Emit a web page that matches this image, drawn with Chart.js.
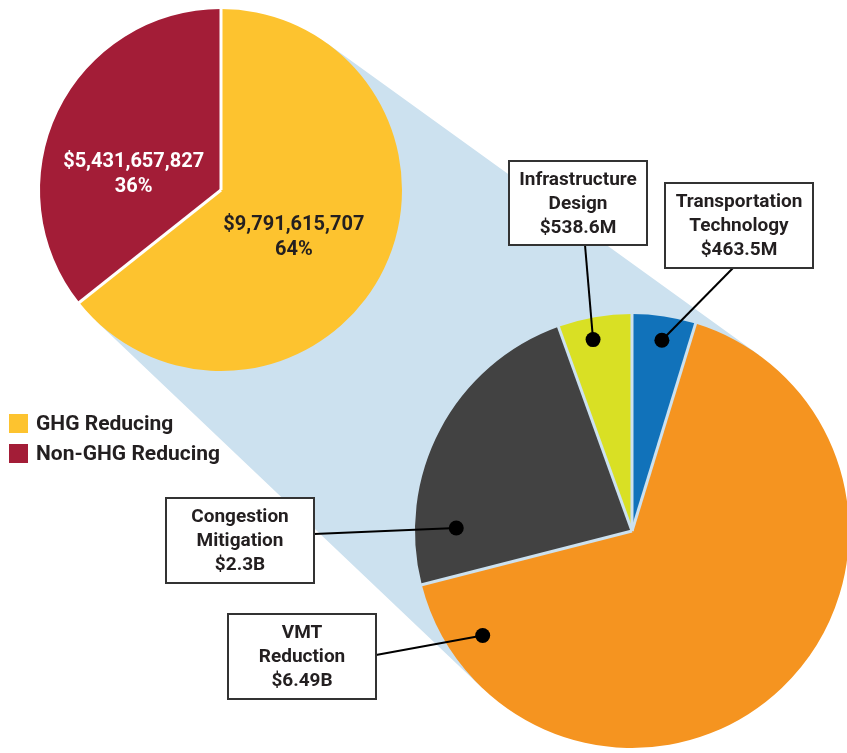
<!DOCTYPE html>
<html>
<head>
<meta charset="utf-8">
<script src="https://cdn.jsdelivr.net/npm/chart.js@4.4.1/dist/chart.umd.min.js"></script>
<style>
  html, body { margin: 0; padding: 0; background: #fff; overflow: hidden; }
  #wrap { position: relative; width: 847px; height: 753px; overflow: hidden; }
  canvas { position: absolute; left: 0; top: 0; }
  #bigChart { z-index: 1; }
  #smallChart { z-index: 2; }
  .legendRow { position: absolute; left: 9px; z-index: 3; display: flex; align-items: center;
    font: bold 21px Roboto, sans-serif; color: #231f20; }
  .legendRow .sq { width: 19px; height: 19px; margin-right: 8px; }
</style>
</head>
<body>
<div id="wrap">
  <canvas id="bigChart" width="860" height="760"></canvas>
  <canvas id="smallChart" width="860" height="760"></canvas>
</div>
<script>
// top level split
const splitLabels = ['GHG Reducing', 'Non-GHG Reducing'];
const splitValues = [9791615707, 5431657827];
const splitColors = ['#fdc32f', '#a31d37'];
const splitTextColors = ['#231f20', '#ffffff'];

// breakdown of the GHG reducing part (millions)
const ghgLabels = ['Transportation Technology', 'VMT Reduction', 'Congestion Mitigation', 'Infrastructure Design'];
const ghgValues = [463.5, 6490, 2300, 538.6];
const ghgValueText = ['$463.5M', '$6.49B', '$2.3B', '$538.6M'];
const ghgColors = ['#1172ba', '#f59420', '#424242', '#d9e024'];

// label placement (angle from top in degrees, fraction of radius)
const splitLabelPos = [[123, 0.48], [280, 0.49]];
const callouts = [
  { box: [665, 183, 148, 85], from: [733, 268], angle: 8.9, r: 0.89 },
  { box: [228, 614, 148, 85], from: [376, 655], angle: 235, r: 0.84 },
  { box: [166, 498, 148, 85], from: [314, 534], angle: 271, r: 0.81 },
  { box: [509, 161, 138, 84], from: [585, 245], angle: 348.5, r: 0.9 }
];

const FONT = 'Roboto, sans-serif';
const INK = '#231f20';
const BAND = '#cce1ef';

// legend
splitLabels.forEach((lab, i) => {
  const row = document.createElement('div');
  row.className = 'legendRow';
  row.style.top = (411 + i * 30) + 'px';
  const sq = document.createElement('span');
  sq.className = 'sq';
  sq.style.background = splitColors[i];
  row.appendChild(sq);
  row.appendChild(document.createTextNode(lab));
  document.getElementById('wrap').appendChild(row);
});

const polar = (arc, deg, frac) => {
  const a = deg * Math.PI / 180;
  return [arc.x + Math.sin(a) * arc.outerRadius * frac, arc.y - Math.cos(a) * arc.outerRadius * frac];
};

// thin separator lines between slices
const separators = (id, color) => ({
  id: id,
  afterDatasetsDraw(chart) {
    const ctx = chart.ctx;
    ctx.save();
    ctx.strokeStyle = color;
    ctx.lineWidth = 3;
    ctx.lineCap = 'butt';
    chart.getDatasetMeta(0).data.forEach((arc) => {
      ctx.beginPath();
      ctx.moveTo(arc.x, arc.y);
      ctx.lineTo(arc.x + Math.cos(arc.startAngle) * (arc.outerRadius + 2), arc.y + Math.sin(arc.startAngle) * (arc.outerRadius + 2));
      ctx.stroke();
    });
    ctx.restore();
  }
});

// labels inside the small pie
const splitLabelPlugin = {
  id: 'splitLabels',
  afterDatasetsDraw(chart) {
    const ctx = chart.ctx;
    const arcs = chart.getDatasetMeta(0).data;
    const total = splitValues.reduce((a, b) => a + b, 0);
    ctx.save();
    ctx.font = 'bold 20px ' + FONT;
    ctx.textAlign = 'center';
    ctx.textBaseline = 'middle';
    arcs.forEach((arc, i) => {
      const [x, y] = polar(arc, splitLabelPos[i][0], splitLabelPos[i][1]);
      ctx.fillStyle = splitTextColors[i];
      ctx.fillText('$' + splitValues[i].toLocaleString('en-US'), x, y - 12.5);
      ctx.fillText(Math.round(splitValues[i] / total * 100) + '%', x, y + 12.5);
    });
    ctx.restore();
  }
};

const smallChart = new Chart(document.getElementById('smallChart'), {
  type: 'pie',
  data: {
    labels: splitLabels,
    datasets: [{
      data: splitValues,
      backgroundColor: splitColors,
      borderWidth: 0
    }]
  },
  options: {
    responsive: false,
    animation: false,
    events: [],
    layout: { padding: { left: 40, top: 9, right: 458, bottom: 389 } },
    plugins: { legend: { display: false }, tooltip: { enabled: false } }
  },
  plugins: [separators('smallSep', '#ffffff'), splitLabelPlugin]
});

// light blue band joining the GHG slice to the breakdown pie
const connectorPlugin = {
  id: 'connector',
  beforeDatasetsDraw(chart) {
    const a = smallChart.getDatasetMeta(0).data[0];
    const b = chart.getDatasetMeta(0).data[0];
    const dx = b.x - a.x, dy = b.y - a.y;
    const dist = Math.hypot(dx, dy);
    const phi = Math.atan2(dy, dx);
    const alpha = Math.acos((b.outerRadius - a.outerRadius) / dist);
    const tang = (ang) => {
      const nx = Math.cos(ang), ny = Math.sin(ang);
      return [[a.x - a.outerRadius * nx, a.y - a.outerRadius * ny], [b.x - b.outerRadius * nx, b.y - b.outerRadius * ny]];
    };
    const up = tang(phi + alpha);
    const low = tang(phi - alpha);
    const ctx = chart.ctx;
    ctx.save();
    ctx.fillStyle = BAND;
    ctx.beginPath();
    ctx.moveTo(a.x, a.y);
    ctx.lineTo(up[0][0], up[0][1]);
    ctx.lineTo(up[1][0], up[1][1]);
    ctx.lineTo(b.x, b.y);
    ctx.lineTo(low[1][0], low[1][1]);
    ctx.lineTo(low[0][0], low[0][1]);
    ctx.closePath();
    ctx.fill();
    ctx.restore();
  }
};

// boxed callouts for the breakdown pie
const calloutPlugin = {
  id: 'callouts',
  afterDatasetsDraw(chart) {
    const ctx = chart.ctx;
    const arcs = chart.getDatasetMeta(0).data;
    ctx.save();
    arcs.forEach((arc, i) => {
      const c = callouts[i];
      const [px, py] = polar(arc, c.angle, c.r);
      ctx.strokeStyle = '#000';
      ctx.lineWidth = 2;
      ctx.beginPath();
      ctx.moveTo(c.from[0], c.from[1]);
      ctx.lineTo(px, py);
      ctx.stroke();
      ctx.fillStyle = '#000';
      ctx.beginPath();
      ctx.arc(px, py, 7.5, 0, Math.PI * 2);
      ctx.fill();
      const [bx, by, bw, bh] = c.box;
      ctx.fillStyle = '#fff';
      ctx.fillRect(bx, by, bw, bh);
      ctx.strokeStyle = '#333';
      ctx.strokeRect(bx, by, bw, bh);
      const lines = ghgLabels[i].split(' ').concat([ghgValueText[i]]);
      ctx.fillStyle = INK;
      ctx.font = 'bold 19px ' + FONT;
      ctx.textAlign = 'center';
      ctx.textBaseline = 'middle';
      const cy = by + bh / 2;
      lines.forEach((t, k) => {
        ctx.fillText(t, bx + bw / 2, cy + (k - (lines.length - 1) / 2) * 24 + 1);
      });
    });
    ctx.restore();
  }
};

const bigChart = new Chart(document.getElementById('bigChart'), {
  type: 'pie',
  data: {
    labels: ghgLabels,
    datasets: [{
      data: ghgValues,
      backgroundColor: ghgColors,
      borderWidth: 0
    }]
  },
  options: {
    responsive: false,
    animation: false,
    events: [],
    layout: { padding: { left: 415, top: 314, right: 11, bottom: 12 } },
    plugins: { legend: { display: false }, tooltip: { enabled: false } }
  },
  plugins: [connectorPlugin, separators('bigSep', BAND), calloutPlugin]
});
</script>
</body>
</html>
